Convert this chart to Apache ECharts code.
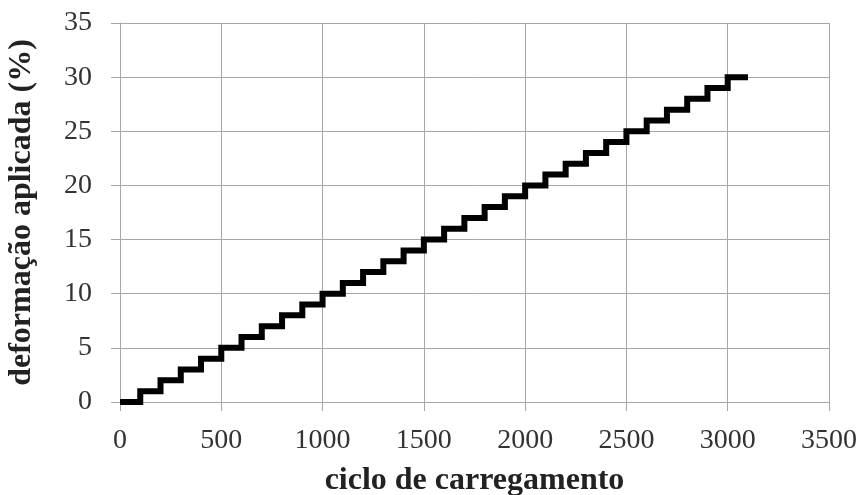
<!DOCTYPE html>
<html>
<head>
<meta charset="utf-8">
<script src="https://cdn.jsdelivr.net/npm/echarts@6/dist/echarts.min.js"></script>
<style>
  html, body { margin: 0; padding: 0; background: #fff; }
  #chart { width: 863px; height: 495px; }
</style>
</head>
<body>
<div id="chart"></div>
<script>
// ciclo de carregamento (x) e deformação aplicada (%) (y), em degraus
var cycles = [0, 100, 200, 300, 400, 500, 600, 700, 800, 900, 1000,
  1100, 1200, 1300, 1400, 1500, 1600, 1700, 1800, 1900, 2000,
  2100, 2200, 2300, 2400, 2500, 2600, 2700, 2800, 2900, 3000, 3100];
var strain = [0, 1, 2, 3, 4, 5, 6, 7, 8, 9, 10,
  11, 12, 13, 14, 15, 16, 17, 18, 19, 20,
  21, 22, 23, 24, 25, 26, 27, 28, 29, 30, 30];

var font = "'Liberation Serif', 'Times New Roman', serif";
var gridColor = "#a6a6a6";

var chart = echarts.init(document.getElementById("chart"));
var points = cycles.map(function (c, i) { return [c, strain[i]]; });

chart.setOption({
  animation: false,
  grid: { left: 120, right: 34, top: 23, bottom: 93, outerBoundsMode: "none", containLabel: false },
  xAxis: {
    type: "value",
    min: 0,
    max: 3500,
    interval: 500,
    name: "ciclo de carregamento",
    nameLocation: "middle",
    nameGap: 63,
    nameTextStyle: { fontFamily: font, fontSize: 32, fontWeight: "bold", color: "#222" },
    axisLine: { show: true, lineStyle: { color: gridColor, width: 1 } },
    axisTick: { show: true, length: 9, lineStyle: { color: gridColor } },
    axisLabel: {
      margin: 25, fontFamily: font, fontSize: 28, color: "#333",
      formatter: function (v) { return String(v); }
    },
    splitLine: { show: true, lineStyle: { color: gridColor, width: 1 } }
  },
  yAxis: {
    type: "value",
    min: 0,
    max: 35,
    interval: 5,
    name: "deformação aplicada (%)",
    nameLocation: "middle",
    nameGap: 82,
    nameTextStyle: { fontFamily: font, fontSize: 32, fontWeight: "bold", color: "#222" },
    axisLine: { show: true, lineStyle: { color: gridColor, width: 1 } },
    axisTick: { show: true, length: 9, lineStyle: { color: gridColor } },
    axisLabel: { margin: 28, fontFamily: font, fontSize: 28, color: "#333" },
    splitLine: { show: true, lineStyle: { color: gridColor, width: 1 } }
  },
  series: [{
    type: "line",
    step: "end",
    data: points,
    symbol: "none",
    lineStyle: { color: "#000", width: 6, cap: "butt", join: "miter" }
  }]
});
</script>
</body>
</html>
